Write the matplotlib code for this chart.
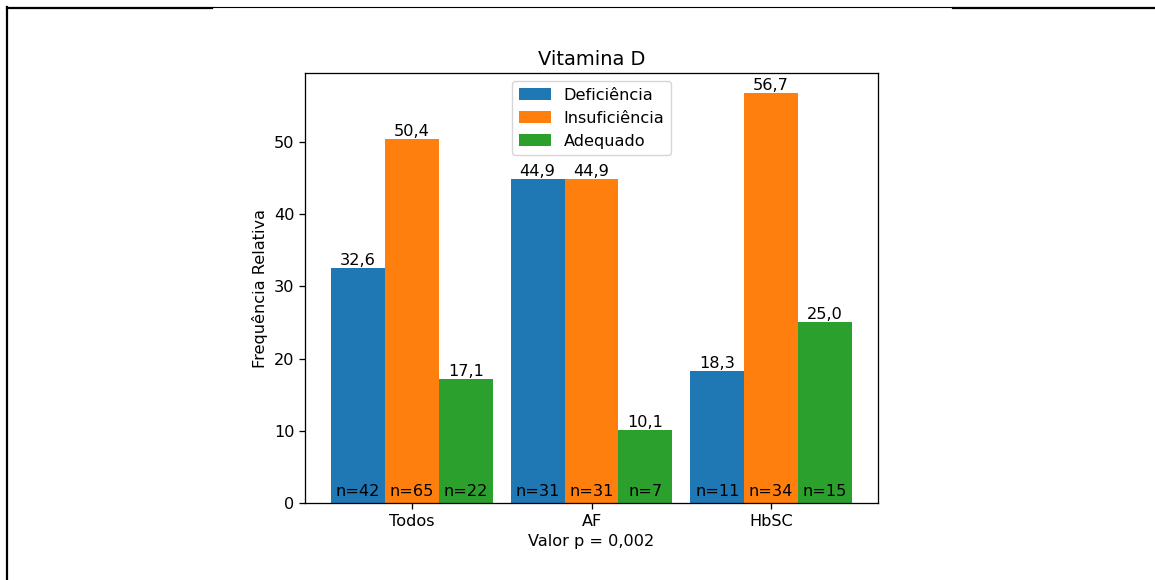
import numpy as np
import matplotlib
matplotlib.use("Agg")
import matplotlib.pyplot as plt
from matplotlib.lines import Line2D

grupos = ["Todos", "AF", "HbSC"]
categorias = ["Deficiência", "Insuficiência", "Adequado"]
deficiencia = [32.6, 44.9, 18.3]
insuficiencia = [50.4, 44.9, 56.7]
adequado = [17.1, 10.1, 25.0]
n_deficiencia = [42, 31, 11]
n_insuficiencia = [65, 31, 34]
n_adequado = [22, 7, 15]

s = 1.16  # escala do grafico dentro da pagina
plt.rcParams["font.size"] = 10 * s
plt.rcParams["axes.linewidth"] = 0.8 * s
plt.rcParams["xtick.major.size"] = 3.5 * s
plt.rcParams["ytick.major.size"] = 3.5 * s
plt.rcParams["xtick.major.width"] = 0.8 * s
plt.rcParams["ytick.major.width"] = 0.8 * s

W, H = 1155, 580
fig = plt.figure(figsize=(W / 100, H / 100), dpi=100)
ax = fig.add_axes([305 / W, (H - 503) / H, 573 / W, 430 / H])

x = np.arange(len(grupos))
larg = 0.3
series = [deficiencia, insuficiencia, adequado]
contagens = [n_deficiencia, n_insuficiencia, n_adequado]

for i, (vals, ns, nome) in enumerate(zip(series, contagens, categorias)):
    pos = x + (i - 1) * larg
    barras = ax.bar(pos, vals, larg, label=nome, color="C%d" % i)
    for b, v, n in zip(barras, vals, ns):
        cx = b.get_x() + b.get_width() / 2
        ax.text(cx, v, ("%.1f" % v).replace(".", ","), ha="center", va="bottom")
        ax.text(cx, 0.6, "n=%d" % n, ha="center", va="bottom")

ax.set_xticks(x)
ax.set_xticklabels(grupos)
ax.set_ylabel("Frequência Relativa")
ax.set_xlabel("Valor p = 0,002")
ax.set_title("Vitamina D", fontsize=12 * s)
ax.legend(loc="upper center")

# bordas da tabela do documento
def linha(x0, y0, x1, y1, lw):
    fig.add_artist(Line2D([x0 / W, x1 / W], [1 - y0 / H, 1 - y1 / H],
                          transform=fig.transFigure, color="black", lw=lw))

linha(7, 7.5, 212, 7.5, 1.6)
linha(212, 7, 953, 7, 0.8)
linha(953, 7.5, 1155, 7.5, 1.6)
linha(7, 7, 7, 580, 1.6)

fig.savefig("out.png", dpi=100)
